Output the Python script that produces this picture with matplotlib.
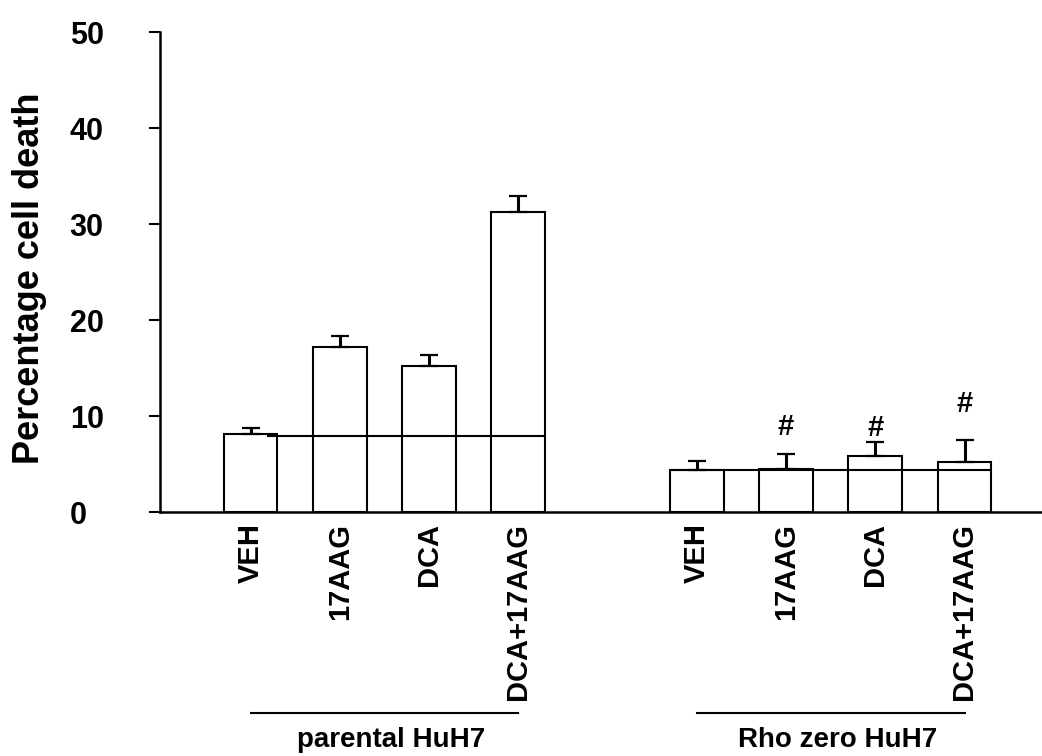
import matplotlib
matplotlib.use("Agg")
import matplotlib.pyplot as plt
import matplotlib.transforms as mtransforms
from matplotlib.lines import Line2D
import numpy as np

plt.rcParams['font.family'] = ['Liberation Sans', 'DejaVu Sans']

# Treatments and cell lines
treatments = ["VEH", "17AAG", "DCA", "DCA+17AAG"]
groups = ["parental HuH7", "Rho zero HuH7"]

# Percentage cell death (mean, SEM) for each cell line
parental_mean = [8.1, 17.2, 15.2, 31.2]
parental_err = [0.6, 1.1, 1.15, 1.75]
rho_mean = [4.4, 4.5, 5.8, 5.2]
rho_err = [0.95, 1.55, 1.5, 2.3]

# Vehicle reference level drawn across each group
control_level = [7.9, 4.4]

# Significance marks (#) on the Rho zero bars and the height they are placed at
rho_marks = ["", "#", "#", "#"]
mark_heights = [0, 8.9, 8.7, 11.3]

y_ticks = [0, 10, 20, 30, 40, 50]

fig = plt.figure(figsize=(10.42, 7.56), dpi=100)
W, H = 1042, 756
ax = fig.add_axes([160 / W, (H - 512) / H, (W - 160) / W, 480 / H])

width = 0.605
pos_par = np.arange(4, dtype=float)
pos_rho = np.arange(4, dtype=float) + 5

means = parental_mean + rho_mean
errs = parental_err + rho_err
positions = np.concatenate([pos_par, pos_rho])

ax.bar(positions, means, width=width, color="white", edgecolor="black",
       linewidth=1.5, zorder=2)
ax.errorbar(positions, means, yerr=[np.zeros(len(errs)), errs], fmt="none",
            ecolor="black", elinewidth=2.2, capsize=6.3, capthick=1.6, zorder=3)

# vehicle reference lines
ax.hlines(control_level[0], pos_par[0] + width * 0.3, pos_par[-1] + width / 2,
          color="black", linewidth=1.5, zorder=4)
ax.hlines(control_level[1], pos_rho[0] - width / 2, pos_rho[-1] + width / 2,
          color="black", linewidth=1.5, zorder=4)

for x, m, h in zip(pos_rho, rho_marks, mark_heights):
    if m:
        ax.text(x, h, m, ha="center", va="center", fontsize=21,
                fontweight="bold", color="black")

ax.set_xlim((160 - 250.5) / 89.25, (W - 250.5) / 89.25)
ax.set_ylim(0, 50)

for s in ["top", "right"]:
    ax.spines[s].set_visible(False)
for s in ["left", "bottom"]:
    ax.spines[s].set_linewidth(1.8)

ax.set_yticks(y_ticks)
ax.set_yticklabels([str(t) for t in y_ticks], fontsize=22, fontweight="bold")
ax.tick_params(axis="y", length=8, width=1.5, direction="out", pad=57)
for lbl in ax.get_yticklabels():
    lbl.set_horizontalalignment("left")

ax.set_xticks(positions)
ax.set_xticklabels(treatments + treatments, rotation=90, fontsize=21,
                   fontweight="bold", va="top", ha="center")
ax.tick_params(axis="x", length=0, pad=8)

fig.text(30 / W, (H - 278) / H, "Percentage cell death", rotation=90,
         ha="center", va="center", fontsize=26, fontweight="bold")

# group brackets under the tick labels
blend = mtransforms.blended_transform_factory(ax.transData, fig.transFigure)
for pos, name in [(pos_par, groups[0]), (pos_rho, groups[1])]:
    fig.add_artist(Line2D([pos[0], pos[-1]], [(H - 713) / H] * 2,
                          transform=blend, color="black", linewidth=1.5))
    fig.text(pos.mean() + 0.08, (H - 740) / H, name, transform=blend,
             ha="center", va="center", fontsize=20, fontweight="bold")

fig.savefig("out.png", dpi=100)
